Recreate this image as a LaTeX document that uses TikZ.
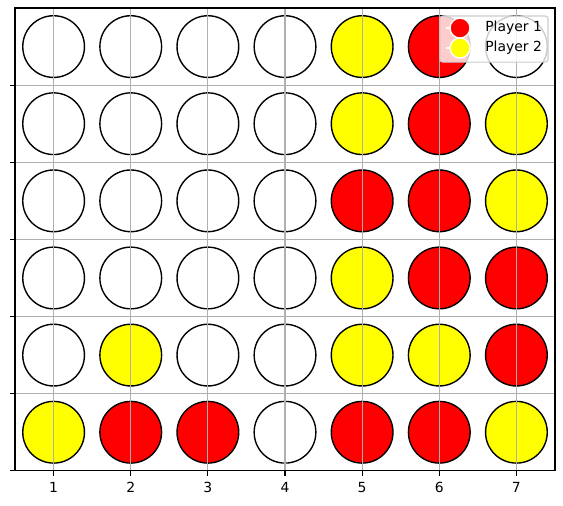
\documentclass[tikz,border=0pt]{standalone}
\usepackage{fontspec}
\setmainfont{DejaVu Sans}
\definecolor{gridgray}{HTML}{B0B0B0}
\definecolor{legendedge}{HTML}{CCCCCC}
\definecolor{discw}{HTML}{FFFFFF}
\definecolor{discr}{HTML}{FF0000}
\definecolor{discy}{HTML}{FFFF00}
\tikzset{
  disc/.style={draw=black, line width=1pt},
  gridline/.style={gridgray, line width=0.8pt},
  axisline/.style={black, line width=0.8pt},
  legendmark/.style={circle, draw=white, line width=1pt, minimum size=14.4pt, inner sep=0pt},
  legendtext/.style={anchor=west, inner sep=0pt, font=\fontsize{10}{12}\selectfont},
}
\begin{document}
\begin{tikzpicture}[x=55.44pt, y=55.44pt]
    \useasboundingbox (0.305,-0.4545) rectangle (7.604,6.104);
    % board, rows from top to bottom (w empty, r player 1, y player 2)
    \foreach \row [count=\r] in {{w,w,w,w,y,r,w},{w,w,w,w,y,r,y},{w,w,w,w,r,r,y},
                                 {w,w,w,w,y,r,r},{w,y,w,w,y,y,r},{y,r,r,w,r,r,y}}
        \foreach \cell [count=\c] in \row
            \draw[disc, fill=disc\cell] (\c,6.5-\r) circle (0.4);
    % grid on top of the discs
    \foreach \i in {1,...,7}
        \draw[gridline] (\i,0) -- (\i,6);
    \foreach \j in {1,...,5}
        \draw[gridline] (0.5,\j) -- (7.5,\j);
    % frame and ticks
    \draw[axisline] (0.5,0) rectangle (7.5,6);
    \foreach \i in {1,...,7}
        \draw[axisline] (\i,0) -- ++(0,-3.5pt)
            node[below, inner sep=0pt, yshift=-4.5pt, font=\fontsize{10}{12}\selectfont] (xtick\i) {\i};
    \foreach \j in {0,...,5}
        \draw[axisline] (0.5,\j) -- ++(-3.5pt,0);
    % legend
    \draw[legendedge, fill=white, fill opacity=0.8, rounded corners=2pt, line width=0.8pt]
        (6.009,5.299) rectangle (7.41,5.896);
    \draw[white, line width=1pt] (6.09,5.740) -- (6.45,5.740);
    \draw[white, line width=1pt] (6.09,5.481) -- (6.45,5.481);
    \node[legendmark, fill=discr] (mark1) at (6.269,5.740) {};
    \node[legendmark, fill=discy] (mark2) at (6.269,5.481) {};
    \node[legendtext] (label1) at (6.593,5.740) {Player 1};
    \node[legendtext] (label2) at (6.593,5.481) {Player 2};
\end{tikzpicture}
\end{document}
